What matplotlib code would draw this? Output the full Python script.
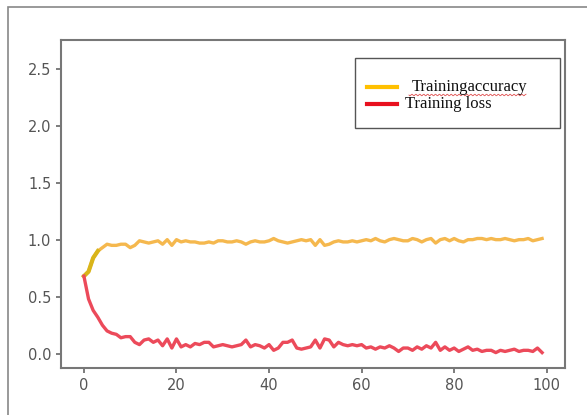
import numpy as np
from matplotlib import pyplot as plt
from matplotlib.lines import Line2D
from matplotlib.patches import Rectangle

# Dados
epochs = np.arange(100)
accuracy = [0.68, 0.72, 0.84, 0.90, 0.93, 0.96, 0.95, 0.95, 0.96, 0.96,
            0.93, 0.95, 0.99, 0.98, 0.97, 0.98, 0.99, 0.96, 1.00, 0.95,
            1.00, 0.98, 0.99, 0.98, 0.98, 0.97, 0.97, 0.98, 0.97, 0.99,
            0.99, 0.98, 0.98, 0.99, 0.98, 0.96, 0.98, 0.99, 0.98, 0.98,
            0.99, 1.01, 0.99, 0.98, 0.97, 0.98, 0.99, 1.00, 0.99, 1.00,
            0.95, 1.00, 0.95, 0.96, 0.98, 0.99, 0.98, 0.98, 0.99, 0.98,
            0.99, 1.00, 0.99, 1.01, 0.99, 0.98, 1.00, 1.01, 1.00, 0.99,
            0.99, 1.01, 1.00, 0.98, 1.00, 1.01, 0.97, 1.00, 1.01, 0.99,
            1.01, 0.99, 0.98, 1.00, 1.00, 1.01, 1.01, 1.00, 1.01, 1.00,
            1.00, 1.01, 1.00, 0.99, 1.00, 1.00, 1.01, 0.99, 1.00, 1.01]
loss = [0.68, 0.48, 0.38, 0.32, 0.25, 0.20, 0.18, 0.17, 0.14, 0.15,
        0.15, 0.10, 0.08, 0.12, 0.13, 0.10, 0.12, 0.07, 0.13, 0.05,
        0.13, 0.06, 0.08, 0.06, 0.09, 0.08, 0.10, 0.10, 0.06, 0.07,
        0.08, 0.07, 0.06, 0.07, 0.08, 0.12, 0.06, 0.08, 0.07, 0.05,
        0.08, 0.03, 0.05, 0.10, 0.10, 0.12, 0.05, 0.04, 0.05, 0.06,
        0.12, 0.05, 0.13, 0.12, 0.06, 0.10, 0.08, 0.07, 0.08, 0.07,
        0.08, 0.05, 0.06, 0.04, 0.06, 0.05, 0.07, 0.05, 0.02, 0.05,
        0.05, 0.03, 0.06, 0.04, 0.07, 0.05, 0.10, 0.03, 0.06, 0.03,
        0.05, 0.02, 0.04, 0.06, 0.03, 0.04, 0.02, 0.03, 0.03, 0.01,
        0.03, 0.02, 0.03, 0.04, 0.02, 0.03, 0.03, 0.02, 0.05, 0.01]
labels = ['Trainingaccuracy', 'Training loss']
legend_colors = ['#FFC000', '#E8101E']

W, H = 587, 415
fig = plt.figure(figsize=(W / 100, H / 100), dpi=100)

def fx(px):
    return px / W

def fy(py):
    return 1 - py / H

# moldura externa (só topo e esquerda aparecem)
fig.patches.append(Rectangle((fx(8), -0.1), 1.2, fy(7) + 0.1,
                             transform=fig.transFigure, fill=False,
                             edgecolor='#888888', linewidth=1.2))

ax = fig.add_axes([fx(61), fy(368), fx(565 - 61), (368 - 40) / H])

ax.plot(epochs, accuracy, color='#F5B84E', linewidth=2.4)
ax.plot(epochs[:4], accuracy[:4], color='#D9B51A', linewidth=3)
ax.plot(epochs, loss, color='#EC4A5A', linewidth=2.4)

ax.set_xlim(-4.95, 103.95)
ax.set_ylim(-0.125, 2.75)
ax.set_xticks([0, 20, 40, 60, 80, 100])
ax.set_yticks([0.0, 0.5, 1.0, 1.5, 2.0, 2.5])
ax.tick_params(colors='#666666', labelcolor='#555555', labelsize=10.5, width=1.2)
for s in ax.spines.values():
    s.set_color('#777777')
    s.set_linewidth(1.5)

# legenda desenhada à mão (caixa colada da imagem original)
fig.patches.append(Rectangle((fx(355), fy(128)), fx(560 - 355), (128 - 58) / H,
                             transform=fig.transFigure, facecolor='white',
                             edgecolor='#555555', linewidth=1.0))
for i, (lab, col) in enumerate(zip(labels, legend_colors)):
    yy = 87 + 17.5 * i
    fig.add_artist(Line2D([fx(367), fx(397)], [fy(yy), fy(yy)],
                          transform=fig.transFigure, color=col, linewidth=3))
    tx = 412 if i == 0 else 405
    fig.text(fx(tx), fy(yy), lab, family='Liberation Serif', fontsize=12,
             va='center', ha='left', color='#111111')

# sublinhado ondulado do corretor ortográfico
xs = np.linspace(409, 526, 150)
ys = 95 + 0.8 * np.sin((xs - 409) * 1.6)
fig.add_artist(Line2D(fx(xs), fy(ys), transform=fig.transFigure,
                      color='#E05050', linewidth=0.6))

fig.savefig('out.png', dpi=100)
